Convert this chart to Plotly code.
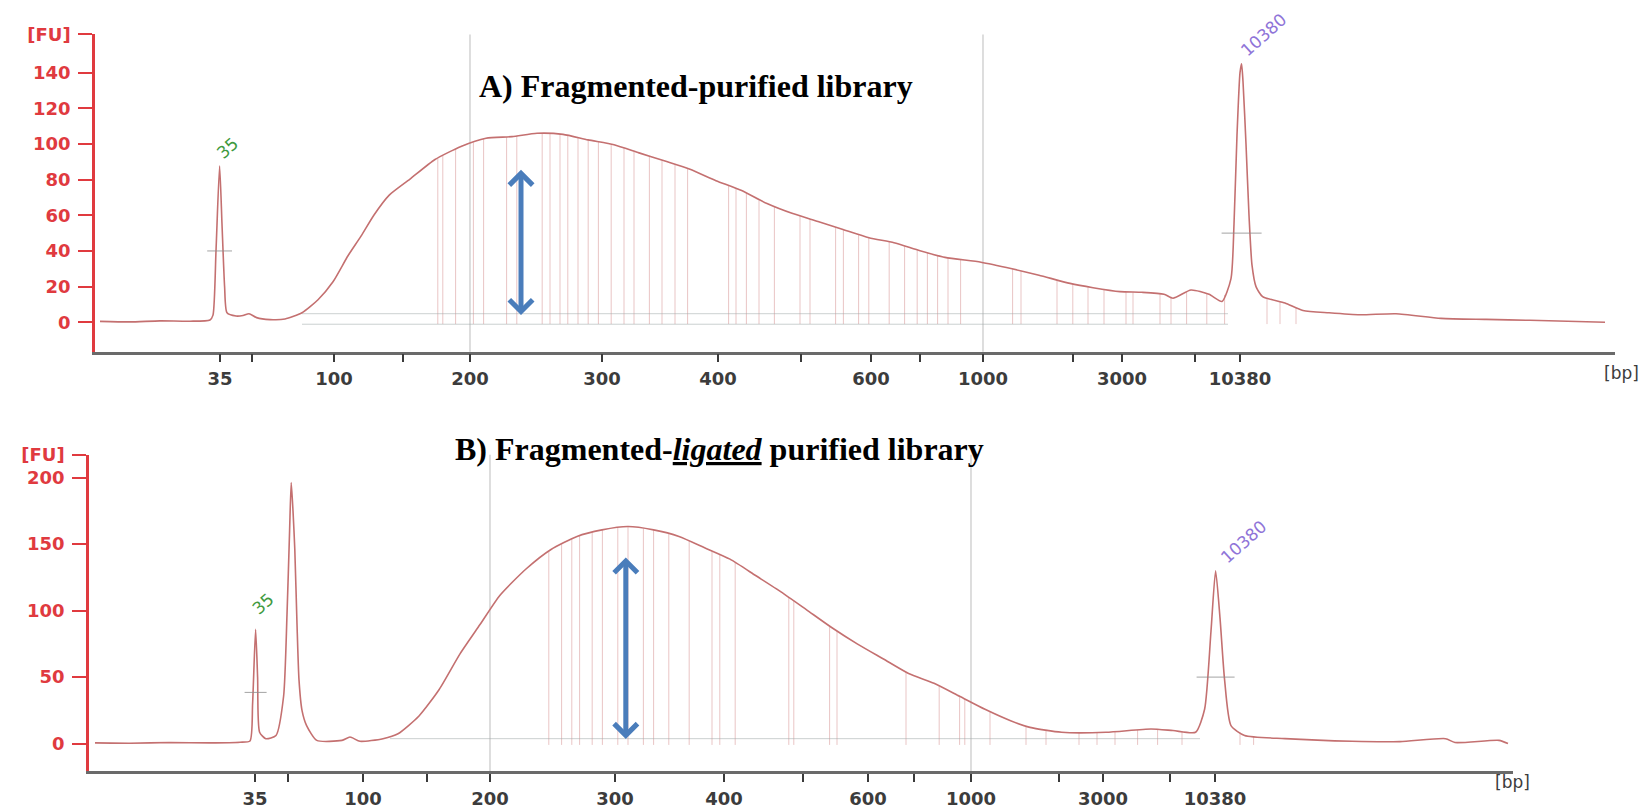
import numpy as np
import plotly.graph_objects as go

# ---------------------------------------------------------------- data ----
# DNA ladder sizes and where each ladder band migrates (seconds) in each run
ladder_bp = [35, 50, 100, 150, 200, 300, 400, 500, 600, 700, 1000, 2000, 3000, 7000, 10380]
labeled_bp = [35, 100, 200, 300, 400, 600, 1000, 3000, 10380]
ladder_time_a = [46.25, 47.85, 51.95, 55.40, 58.75, 65.35, 71.15, 75.30, 78.80,
                 81.25, 84.40, 88.90, 91.35, 95.00, 97.25]
ladder_time_b = [48.30, 49.95, 53.70, 56.90, 60.05, 66.30, 71.75, 75.70, 78.95,
                 81.25, 84.10, 88.50, 90.70, 94.05, 96.30]

# Electropherogram A: fragmented-purified library (time [s], fluorescence [FU])
time_a = [40.25, 41.75, 43.25, 44.75, 45.75, 45.90, 46.05, 46.23, 46.35, 46.48,
          46.60, 47.05, 47.40, 47.70, 48.08, 48.75, 49.50, 50.35, 51.15, 51.90,
          52.65, 53.30, 53.95, 54.70, 55.75, 57.00, 58.30, 59.55, 60.85, 62.10,
          63.40, 64.65, 65.95, 67.20, 68.50, 69.75, 71.05, 72.30, 73.60, 74.85,
          76.15, 77.40, 78.70, 79.95, 81.25, 82.50, 84.30, 85.85, 87.20, 88.75,
          89.90, 91.25, 92.35, 93.45, 93.90, 94.80, 95.70, 96.35, 96.80, 96.95,
          97.10, 97.25, 97.33, 97.40, 97.55, 97.70, 97.85, 98.05, 98.38, 99.50,
          100.40, 101.70, 103.25, 105.05, 107.30, 109.55, 111.75, 115.50]
fu_a = [0.5, 0.2, 0.8, 0.6, 1.3, 4.0, 40.0, 87.7, 55.0, 20.0,
        5.3, 3.5, 3.8, 4.8, 2.6, 1.5, 1.8, 5.3, 12.6, 22.7,
        37.3, 48.3, 60.2, 71.2, 80.3, 91.3, 98.6, 103.2, 104.1, 106.0,
        105.4, 102.3, 99.6, 95.0, 90.4, 85.8, 79.4, 74.0, 66.6, 61.1,
        56.5, 52.0, 47.4, 44.6, 40.1, 36.4, 33.7, 30.0, 26.4, 21.8,
        19.4, 17.2, 16.8, 15.7, 13.5, 18.1, 15.7, 11.7, 24.5, 55.0,
        105.0, 140.0, 145.0, 135.0, 100.0, 60.0, 32.0, 20.0, 14.4, 10.8,
        6.6, 5.3, 4.2, 4.8, 2.2, 1.6, 1.1, 0.0]

# Electropherogram B: fragmented-ligated purified library
time_b = [40.30, 42.05, 44.05, 46.05, 47.55, 48.05, 48.18, 48.33, 48.43, 48.53,
          48.84, 49.35, 49.73, 49.90, 50.03, 50.11, 50.20, 50.29, 50.40, 50.50,
          50.65, 50.88, 51.39, 52.65, 53.05, 53.55, 54.70, 55.45, 56.50, 57.50,
          58.55, 59.55, 60.55, 61.85, 63.10, 64.40, 65.65, 66.95, 68.23, 69.50,
          70.78, 72.05, 73.33, 74.60, 75.88, 77.15, 78.43, 79.70, 80.98, 82.25,
          83.53, 84.80, 86.08, 87.05, 88.63, 90.85, 93.10, 94.20, 95.33, 95.78,
          96.10, 96.33, 96.55, 96.78, 97.10, 97.78, 99.80, 103.15, 105.55, 107.83,
          108.30, 110.50, 110.95]
fu_b = [0.5, 0.3, 0.8, 0.5, 1.0, 2.0, 30.0, 85.9, 50.0, 8.5,
        3.7, 6.1, 35.6, 97.0, 160.0, 196.3, 175.0, 146.0, 90.0, 47.9,
        25.0, 13.5, 2.4, 2.4, 4.9, 1.7, 3.7, 7.4, 20.8, 40.5,
        67.5, 89.5, 111.6, 131.3, 146.0, 155.8, 160.7, 163.2, 160.7, 155.8,
        147.3, 138.7, 126.4, 114.1, 100.6, 87.1, 74.8, 63.8, 52.7, 45.4,
        35.6, 25.8, 17.2, 12.2, 8.5, 8.5, 11.0, 9.8, 8.5, 25.8,
        84.7, 130.0, 94.5, 47.9, 13.5, 6.1, 3.7, 1.7, 1.5, 3.7,
        0.8, 2.4, 0.0]

# Peak-table (smear analysis) marker times
smear_marks_a = [57.14, 57.39, 58.03, 58.92, 59.43, 60.58, 61.09, 62.36, 62.75, 63.25,
                 63.64, 64.15, 64.66, 65.17, 65.81, 66.45, 66.95, 67.72, 68.35, 69.00,
                 69.63, 71.68, 72.05, 72.57, 73.20, 73.97, 75.25, 75.75, 77.03, 77.42,
                 78.18, 78.69, 79.71, 80.48, 81.11, 81.62, 82.13, 82.65, 83.28, 85.88,
                 86.30, 88.10, 88.89, 89.65, 90.45, 91.55, 91.90, 93.25, 93.80, 94.58,
                 95.59, 96.48, 98.60, 99.25, 100.05]
smear_marks_b = [62.99, 63.63, 64.14, 64.53, 65.16, 65.67, 66.44, 66.95, 67.72, 68.23,
                 68.99, 70.01, 71.15, 71.54, 72.31, 74.99, 75.24, 77.03, 77.40, 80.85,
                 82.51, 83.53, 83.79, 85.05, 86.85, 87.85, 89.50, 90.40, 91.30, 92.43,
                 93.43, 94.65, 97.55, 98.23]

# Smear region limits [bp] and analysis baseline extent (time [s], FU)
region_bp = [200, 1000]
smear_base_a = {"t": [50.35, 96.65], "fu": [4.8, -1.1]}
smear_base_b = {"t": [55.05, 95.55], "fu": [3.7]}

# Marker peak (lower / upper) cursor bars: (fu level, half-width in s)
marker_bar_a = [(40.0, 0.62), (50.0, 1.0)]
marker_bar_b = [(38.5, 0.55), (50.0, 0.95)]

# Blue double arrows: time [s], FU from / to
arrow_a = {"t": 61.30, "fu": [85.5, 3.2]}
arrow_b = {"t": 66.84, "fu": [140.0, 2.4]}

# ---------------------------------------------------------------- style ---
W, H = 1650, 809
TRACE = "rgb(196,112,112)"
MARK = "rgba(214,140,140,0.5)"
REGION = "rgba(185,185,185,0.75)"
BASE = "rgba(160,170,170,0.55)"
YRED = "#e03a3f"
XGRAY = "#3c3c3c"
AXFONT = "DejaVu Sans"

fig = go.Figure()


def panel(idx, times, fus, ladder_t, marks, base, bars, arrow, xdom_px, ydom_px,
          xrange, yrange, yticks, title, title_xy, bp_xy, label_shift):
    xa = "x" if idx == 1 else f"x{idx}"
    ya = "y" if idx == 1 else f"y{idx}"
    t_arr = np.asarray(times)
    f_arr = np.asarray(fus)

    # smear-analysis marker lines from baseline up to the trace
    mx, my = [], []
    for t in marks:
        mx += [t, t, None]
        my += [-1.0, float(np.interp(t, t_arr, f_arr)), None]
    fig.add_trace(go.Scatter(x=mx, y=my, mode="lines", xaxis=xa, yaxis=ya,
                             line=dict(color=MARK, width=1), hoverinfo="skip"))

    # analysis baseline(s)
    for level in base["fu"]:
        fig.add_trace(go.Scatter(x=base["t"], y=[level, level], mode="lines",
                                 xaxis=xa, yaxis=ya,
                                 line=dict(color=BASE, width=1), hoverinfo="skip"))

    # region limits at 200 bp and 1000 bp
    for bp in region_bp:
        t = ladder_t[ladder_bp.index(bp)]
        fig.add_shape(type="line", xref=xa, yref=f"{ya} domain", x0=t, x1=t,
                      y0=0, y1=1, line=dict(color=REGION, width=1.3), layer="below")

    # the electropherogram itself
    fig.add_trace(go.Scatter(x=times, y=fus, mode="lines", xaxis=xa, yaxis=ya,
                             line=dict(color=TRACE, width=1.6, shape="spline",
                                       smoothing=0.6),
                             name=title))

    # marker peaks: labels and cursor bars
    for k, bp in enumerate([ladder_bp[0], ladder_bp[-1]]):
        t0 = ladder_t[ladder_bp.index(bp)]
        win = (t_arr > t0 - 0.6) & (t_arr < t0 + 0.6)
        j = np.argmax(np.where(win, f_arr, -1))
        level, hw = bars[k]
        fig.add_shape(type="line", xref=xa, yref=ya, x0=t_arr[j] - hw,
                      x1=t_arr[j] + hw, y0=level, y1=level,
                      line=dict(color="rgba(140,140,140,0.8)", width=1))
        dx, dy = label_shift[k]
        fig.add_annotation(x=t_arr[j], y=f_arr[j], xref=xa, yref=ya,
                           text=str(bp), showarrow=False, textangle=-42,
                           xanchor="center", yanchor="bottom", xshift=dx, yshift=dy,
                           font=dict(family=AXFONT, size=17,
                                     color="#3f9a3f" if k == 0 else "#8f74d8"))

    # blue double-headed arrow
    fig.add_annotation(x=arrow["t"], y=arrow["fu"][0], ax=arrow["t"], ay=arrow["fu"][1],
                       xref=xa, yref=ya, axref=xa, ayref=ya, text="",
                       showarrow=True, arrowside="end+start",
                       arrowhead=4, startarrowhead=4, arrowsize=0.9, startarrowsize=0.9,
                       arrowwidth=5, arrowcolor="#4a7dbb")

    # panel title
    fig.add_annotation(x=title_xy[0] / W, y=1 - title_xy[1] / H, xref="paper", yref="paper",
                       text=title, showarrow=False, xanchor="center", yanchor="middle",
                       font=dict(family="Liberation Serif", size=32, color="black"))
    # unit label of the size axis
    fig.add_annotation(x=bp_xy[0] / W, y=1 - bp_xy[1] / H, xref="paper", yref="paper",
                       text="[bp]", showarrow=False, xanchor="center", yanchor="middle",
                       font=dict(family=AXFONT, size=17, color=XGRAY))

    ticktext = [str(b) if b in labeled_bp else "" for b in ladder_bp]
    xkey = "xaxis" if idx == 1 else f"xaxis{idx}"
    ykey = "yaxis" if idx == 1 else f"yaxis{idx}"
    fig.update_layout(**{
        xkey: dict(domain=[xdom_px[0] / W, xdom_px[1] / W], range=xrange, anchor=ya,
                   tickvals=ladder_t, ticktext=ticktext, showline=True,
                   linecolor="#6a6a6a", linewidth=2.5, ticks="outside", ticklen=8,
                   tickwidth=2, tickcolor="#3a3a3a", showgrid=False, zeroline=False,
                   ticklabelstandoff=1,
                   tickfont=dict(family=AXFONT, size=18, color=XGRAY, weight="bold")),
        ykey: dict(domain=[1 - ydom_px[1] / H, 1 - ydom_px[0] / H], range=yrange,
                   anchor=xa, tickvals=yticks + [yrange[1]],
                   ticktext=[str(v) for v in yticks] + ["[FU]"], showline=True,
                   linecolor=YRED, linewidth=2.5, ticks="outside", ticklen=14,
                   tickwidth=1.5, tickcolor=YRED, showgrid=False, zeroline=False,
                   ticklabelstandoff=4,
                   tickfont=dict(family=AXFONT, size=18, color=YRED, weight="bold")),
    })


panel(1, time_a, fu_a, ladder_time_a, smear_marks_a, smear_base_a, marker_bar_a, arrow_a,
      xdom_px=(95, 1615), ydom_px=(24, 348), xrange=[40, 116], yrange=[-16.5, 161.4],
      yticks=[0, 20, 40, 60, 80, 100, 120, 140],
      title="<b>A) Fragmented-purified library</b>", title_xy=(696, 77),
      bp_xy=(1621, 370), label_shift=[(8, 0), (22, 0)])

panel(2, time_b, fu_b, ladder_time_b, smear_marks_b, smear_base_b, marker_bar_b, arrow_b,
      xdom_px=(89, 1513), ydom_px=(453.3, 776.7), xrange=[40, 111.2], yrange=[-20.9, 217.2],
      yticks=[0, 50, 100, 150, 200],
      title="<b>B) Fragmented-<i><u>ligated</u></i> purified library</b>", title_xy=(719, 447),
      bp_xy=(1512, 788), label_shift=[(7, 8), (28, 0)])

fig.update_layout(width=W, height=H, margin=dict(l=0, r=0, t=0, b=0),
                  paper_bgcolor="white", plot_bgcolor="white", showlegend=False)

fig.write_html("out.html")
